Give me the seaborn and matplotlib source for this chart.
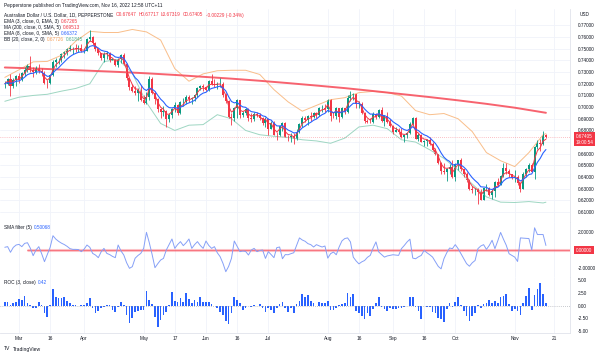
import numpy as np
import pandas as pd
import matplotlib
matplotlib.use("Agg")
import matplotlib.pyplot as plt
import seaborn as sns

# AUD/USD daily bars, Feb 22 - Nov 16 2022 (one value per trading day, grouped by month)
dates = pd.bdate_range("2022-02-22", "2022-11-16")

closes = [
    0.7200, 0.7245, 0.7180, 0.7235, 0.7265,
    0.7230, 0.7290, 0.7320, 0.7355, 0.7320, 0.7300, 0.7335, 0.7310, 0.7295, 0.7210, 0.7205, 0.7275,
    0.7390, 0.7405, 0.7405, 0.7455, 0.7470, 0.7500, 0.7505, 0.7505, 0.7500, 0.7505, 0.7480,
    0.7485, 0.7580, 0.7600, 0.7550, 0.7495, 0.7460, 0.7420, 0.7455, 0.7460, 0.7405, 0.7410,
    0.7365, 0.7410, 0.7450, 0.7370, 0.7250, 0.7170, 0.7140, 0.7120, 0.7150, 0.7060,
    0.7035, 0.7090, 0.7240, 0.7120, 0.7070, 0.6980, 0.6955, 0.6965, 0.6900, 0.6935, 0.6985,
    0.7020, 0.6950, 0.7040, 0.7040, 0.7090, 0.7070, 0.7080, 0.7100, 0.7165, 0.7185, 0.7175,
    0.7150, 0.7225, 0.7200, 0.7190, 0.7200, 0.7200, 0.7105, 0.7055, 0.6915, 0.6905, 0.6995,
    0.7060, 0.6930, 0.6950, 0.6985, 0.6910, 0.6900, 0.6945, 0.6930, 0.6910, 0.6865, 0.6900,
    0.6815, 0.6865, 0.6765, 0.6760, 0.6835, 0.6860, 0.6745, 0.6740, 0.6755, 0.6730, 0.6790,
    0.6855, 0.6910, 0.6890, 0.6925, 0.6915, 0.6950, 0.6935, 0.6990, 0.6995, 0.6985,
    0.7060, 0.6925, 0.6920, 0.6995, 0.6915, 0.6990, 0.6960, 0.7075, 0.7100, 0.7110, 0.7030,
    0.7030, 0.6950, 0.6880, 0.6875, 0.6870, 0.6945, 0.6915, 0.6975, 0.6880, 0.6920, 0.6875, 0.6840,
    0.6790, 0.6800, 0.6790, 0.6740, 0.6760, 0.6775, 0.6855, 0.6905, 0.6730, 0.6760, 0.6705,
    0.6710, 0.6720, 0.6680, 0.6630, 0.6600, 0.6525, 0.6450, 0.6445, 0.6470, 0.6485, 0.6400,
    0.6510, 0.6545, 0.6465, 0.6425, 0.6375, 0.6300, 0.6285, 0.6285, 0.6275, 0.6205, 0.6305,
    0.6305, 0.6245, 0.6280, 0.6355, 0.6330, 0.6410, 0.6480, 0.6455, 0.6425, 0.6395,
    0.6400, 0.6350, 0.6300, 0.6425, 0.6470, 0.6500, 0.6445, 0.6660, 0.6695, 0.6680, 0.6765, 0.67405,
]
highs = [
    0.7225, 0.7250, 0.7285, 0.7250, 0.7275,
    0.7290, 0.7300, 0.7340, 0.7370, 0.7441, 0.7340, 0.7350, 0.7370, 0.7335, 0.7310, 0.7230, 0.7285,
    0.7400, 0.7420, 0.7420, 0.7460, 0.7480, 0.7505, 0.7530, 0.7515, 0.7540, 0.7530, 0.7540,
    0.7510, 0.7590, 0.7661, 0.7610, 0.7560, 0.7505, 0.7460, 0.7470, 0.7480, 0.7470, 0.7420,
    0.7410, 0.7425, 0.7455, 0.7460, 0.7380, 0.7250, 0.7200, 0.7185, 0.7165, 0.7190,
    0.7100, 0.7130, 0.7266, 0.7255, 0.7140, 0.7075, 0.6990, 0.7010, 0.6975, 0.6950, 0.6990,
    0.7040, 0.7030, 0.7050, 0.7075, 0.7105, 0.7100, 0.7090, 0.7110, 0.7170, 0.7190, 0.7200,
    0.7185, 0.7235, 0.7283, 0.7240, 0.7215, 0.7250, 0.7215, 0.7125, 0.7060, 0.6950, 0.7005,
    0.7070, 0.7065, 0.6970, 0.6990, 0.6990, 0.6950, 0.6960, 0.6960, 0.6950, 0.6915, 0.6915,
    0.6905, 0.6880, 0.6880, 0.6785, 0.6840, 0.6870, 0.6870, 0.6760, 0.6780, 0.6775, 0.6810,
    0.6865, 0.6925, 0.6925, 0.6930, 0.6955, 0.6960, 0.6960, 0.7000, 0.7020, 0.7030,
    0.7070, 0.7070, 0.6960, 0.7000, 0.6995, 0.7000, 0.6990, 0.7105, 0.7137, 0.7125, 0.7110,
    0.7055, 0.7040, 0.6960, 0.6900, 0.6910, 0.6955, 0.6950, 0.6985, 0.7005, 0.6925, 0.6955, 0.6900,
    0.6850, 0.6830, 0.6825, 0.6820, 0.6765, 0.6790, 0.6870, 0.6915, 0.6915, 0.6775, 0.6770,
    0.6720, 0.6725, 0.6740, 0.6705, 0.6650, 0.6600, 0.6530, 0.6520, 0.6480, 0.6510, 0.6545,
    0.6520, 0.6550, 0.6560, 0.6470, 0.6440, 0.6380, 0.6320, 0.6310, 0.6305, 0.6300, 0.6310,
    0.6340, 0.6315, 0.6300, 0.6370, 0.6390, 0.6420, 0.6520, 0.6520, 0.6470, 0.6430,
    0.6460, 0.6420, 0.6355, 0.6440, 0.6480, 0.6520, 0.6520, 0.6670, 0.6715, 0.6725, 0.6797, 0.67717,
]
lows = [
    0.7160, 0.7190, 0.7094, 0.7165, 0.7180,
    0.7210, 0.7220, 0.7270, 0.7300, 0.7300, 0.7260, 0.7280, 0.7290, 0.7265, 0.7195, 0.7165, 0.7195,
    0.7270, 0.7340, 0.7370, 0.7390, 0.7420, 0.7450, 0.7480, 0.7455, 0.7470, 0.7470, 0.7470,
    0.7460, 0.7480, 0.7570, 0.7530, 0.7480, 0.7450, 0.7400, 0.7390, 0.7410, 0.7390, 0.7400,
    0.7350, 0.7340, 0.7380, 0.7360, 0.7230, 0.7150, 0.7130, 0.7100, 0.7055, 0.7055,
    0.7030, 0.7030, 0.7060, 0.7110, 0.7030, 0.6960, 0.6910, 0.6920, 0.6829, 0.6870, 0.6910,
    0.6960, 0.6930, 0.6940, 0.7010, 0.7030, 0.7040, 0.7030, 0.7050, 0.7090, 0.7150, 0.7140,
    0.7135, 0.7135, 0.7190, 0.7175, 0.7155, 0.7170, 0.7090, 0.7035, 0.6910, 0.6850, 0.6880,
    0.6910, 0.6910, 0.6915, 0.6930, 0.6880, 0.6870, 0.6880, 0.6915, 0.6890, 0.6850, 0.6830,
    0.6765, 0.6810, 0.6760, 0.6720, 0.6755, 0.6795, 0.6740, 0.6710, 0.6705, 0.6680, 0.6720,
    0.6780, 0.6830, 0.6870, 0.6845, 0.6880, 0.6905, 0.6910, 0.6920, 0.6955, 0.6960,
    0.6960, 0.6880, 0.6910, 0.6900, 0.6870, 0.6910, 0.6940, 0.6950, 0.7050, 0.7060, 0.6995,
    0.6990, 0.6945, 0.6860, 0.6860, 0.6860, 0.6860, 0.6900, 0.6905, 0.6870, 0.6840, 0.6865, 0.6830,
    0.6770, 0.6785, 0.6770, 0.6735, 0.6700, 0.6735, 0.6770, 0.6850, 0.6725, 0.6710, 0.6700,
    0.6670, 0.6670, 0.6675, 0.6620, 0.6590, 0.6510, 0.6430, 0.6430, 0.6363, 0.6430, 0.6395,
    0.6370, 0.6460, 0.6455, 0.6400, 0.6360, 0.6290, 0.6260, 0.6250, 0.6170, 0.6200, 0.6200,
    0.6280, 0.6240, 0.6210, 0.6230, 0.6320, 0.6330, 0.6400, 0.6430, 0.6400, 0.6385,
    0.6360, 0.6335, 0.6275, 0.6300, 0.6400, 0.6440, 0.6440, 0.6385, 0.6640, 0.6620, 0.6675, 0.67319,
]
first_open = 0.7195

# Bollinger bands (20, 2) and 200 SMA, read every few bars
bb_bars = list(range(0, 191, 5)) + [191]
bb_upper = [0.7255, 0.7320, 0.7388, 0.7392, 0.7445, 0.7565, 0.7650, 0.7640, 0.7640, 0.7666,
            0.7645, 0.7575, 0.7330, 0.7222, 0.7285, 0.7312, 0.7316, 0.7316, 0.7280, 0.7150,
            0.7045, 0.6965, 0.7015, 0.7064, 0.7081, 0.7124, 0.7135, 0.7125, 0.7095, 0.6970,
            0.6935, 0.6945, 0.6900, 0.6790, 0.6610, 0.6540, 0.6490, 0.6610, 0.6763, 0.67726]
bb_lower = [0.7050, 0.7085, 0.7100, 0.7110, 0.7137, 0.7160, 0.7200, 0.7390, 0.7410, 0.7290,
            0.7040, 0.6860, 0.6800, 0.6845, 0.6850, 0.6935, 0.6900, 0.6800, 0.6763, 0.6750,
            0.6740, 0.6720, 0.6710, 0.6690, 0.6734, 0.6830, 0.6845, 0.6815, 0.6720, 0.6700,
            0.6634, 0.6560, 0.6460, 0.6340, 0.6230, 0.6185, 0.6182, 0.6190, 0.6178, 0.61845]
ma_bars = list(range(0, 181, 10)) + [191]
ma200 = [0.7340, 0.7332, 0.7322, 0.7312, 0.7302, 0.7290, 0.7276, 0.7260, 0.7244, 0.7226,
         0.7206, 0.7185, 0.7163, 0.7138, 0.7112, 0.7086, 0.7058, 0.7028, 0.6995, 0.69513]

sma_filter = [
    0.30, 0.37, -0.25, 0.29, 0.55, 0.62, 0.37, 0.73, 0.80, 0.20, -0.62, 0.00, 0.37, -0.40, -1.28, -0.50,
    0.30, 1.57, 1.20, 0.95, 0.75, 0.60, 0.40, 0.15, 0.07, 0.07, 0.05, -0.18, 0.10, 0.55, 0.30, -0.37,
    -0.55, -0.84, -0.20, 0.18, -0.37, -0.50, -0.70, -0.84, 0.55, -0.10, -0.55, -1.40, -2.01, -1.83, -0.90, -0.60,
    -0.37, 0.18, 1.94, 0.80, -0.50, -1.94, -1.50, -1.10, -0.92, 0.00, 0.60, 1.21, 0.18, 0.60, 0.92, 0.48,
    0.80, 1.21, 0.18, 0.60, 0.92, 0.50, 0.18, 0.99, 0.50, 0.18, 0.37, -0.30, -0.73, -1.46, -2.38, -1.80,
    -0.92, 0.99, 0.40, -0.18, -0.11, -0.15, -0.55, 0.00, 0.18, -0.18, -0.05, 0.00, -0.92, -0.18, -0.50, -0.84,
    0.26, 0.33, -0.96, -0.50, -0.52, -0.40, -0.30, 0.52, 1.33, 1.10, 0.96, 0.70, 0.59, 0.33, 0.59, 0.45,
    0.33, 0.44, -0.89, -0.40, -0.22, -0.52, 0.33, 1.00, 1.26, 1.33, 0.89, -0.78, -1.20, -1.52, -1.30, -1.15,
    -0.80, -0.59, 0.22, 0.89, -0.22, -0.50, -0.78, -0.65, -0.59, -0.52, -0.55, -0.59, 0.15, 0.50, 0.89, 1.19,
    -0.89, -0.96, -0.75, -0.59, -0.04, -0.30, -0.52, -0.78, -1.30, -1.80, -2.07, -0.96, -0.30, 0.22, 0.15, 0.59,
    0.15, -0.40, -0.96, -1.50, -1.78, -1.40, -1.15, 0.15, 0.44, 0.59, 0.07, 0.50, 1.07, 0.15, 1.00, 1.93,
    1.20, 0.52, -0.41, -0.60, -0.78, -1.26, 1.33, 1.30, 1.28, 1.26, 0.00, 2.44, 1.70, 1.70, 1.70, 0.50,
]
roc = [
    0.80, 0.65, 0.15, 0.45, 0.65, 1.30, 1.10, 1.90, 0.45, 0.10, -0.50, -0.40, 0.65, 0.10, -1.50, -2.15,
    0.05, 3.30, 1.75, 1.55, 1.55, 1.75, 0.90, 0.45, 0.05, 0.03, 0.02, 0.05, 0.10, 0.45, 1.40, -0.50,
    -1.50, -1.05, -0.50, -0.20, 0.10, 0.10, -0.85, -1.30, -0.20, 0.65, 0.10, -1.85, -3.45, -2.40, -1.20, -1.05,
    -0.85, -0.80, 2.90, 1.10, 0.25, -2.15, -4.10, -2.80, -1.85, -1.30, 0.10, 2.75, 0.90, 0.65, 1.40, 0.65,
    2.40, 1.30, 0.45, 1.10, 0.65, 1.75, 0.80, 0.65, 0.65, 0.30, 0.00, -0.50, -1.20, -1.85, -3.10, -3.65,
    -1.50, 1.75, 1.10, 0.45, -0.85, -0.50, 0.00, -0.20, 0.10, 0.00, 0.25, -0.50, -1.20, -0.40, -0.85, -1.50,
    -0.40, 0.25, 0.75, -0.40, -1.30, -0.40, -1.50, 0.30, 0.90, 2.20, 1.60, 2.00, 0.90, 0.45, 0.00, 0.70,
    0.45, 0.45, 0.90, -0.85, -0.85, -0.40, 0.05, 0.25, 0.45, 2.45, 1.60, 2.20, -1.05, -1.40, -2.00, -2.70,
    -1.40, -2.00, -0.70, 0.45, 1.60, -0.30, -0.70, -1.05, -0.40, -0.70, -0.60, -0.50, -0.40, -0.20, -0.10, 1.60,
    1.70, -0.20, -1.05, -2.70, -0.05, -0.20, -0.20, -1.25, -1.40, -2.40, -2.70, -3.20, -0.70, 0.45, -0.20, 0.70,
    1.60, 0.05, -1.05, -2.00, -3.00, -2.00, -1.40, 0.05, -0.40, 0.25, 0.45, 1.10, 0.45, 0.90, 0.45, 1.60,
    1.80, 2.20, 0.25, -1.05, -0.70, -1.05, -1.90, 0.45, 1.90, 3.55, -0.85, 2.00, 3.35, 4.40, 2.20, 0.42,
]

tick_dates = ["2022-03-01", "2022-03-16", "2022-04-01", "2022-05-02", "2022-05-17", "2022-06-01",
              "2022-06-16", "2022-07-01", "2022-08-01", "2022-08-16", "2022-09-01", "2022-09-16",
              "2022-10-03", "2022-11-01", "2022-11-21"]
tick_labels = ["Mar", "16", "Apr", "May", "17", "Jun", "16", "Jul", "Aug", "16", "Sep", "16",
               "Oct", "Nov", "21"]

n = len(dates)
for arr in (closes, highs, lows, sma_filter, roc):
    assert len(arr) == n, len(arr)

df = pd.DataFrame({"bar": np.arange(n), "close": closes, "high": highs, "low": lows,
                   "sma_filter": sma_filter, "roc": roc})
df["open"] = [first_open] + closes[:-1]
df["ema3"] = df["close"].ewm(span=3, adjust=False).mean()
df["ema8"] = df["close"].ewm(span=8, adjust=False).mean()

all_days = pd.bdate_range("2022-02-22", "2022-11-30")
tick_pos = [all_days.get_loc(pd.Timestamp(d)) for d in tick_dates]

# colours
UP, DOWN = "#089981", "#F23645"
TXT = "#131722"
GRID = "#F0F3FA"
BORDER = "#E0E3EB"

sns.set_theme(style="white")
plt.rcParams["font.family"] = ["Liberation Sans", "DejaVu Sans"]

W, H = 602, 355
fig = plt.figure(figsize=(W / 100, H / 100), dpi=100)
fig.patch.set_facecolor("white")


def box(top, bottom):
    return [0, 1 - bottom / H, 570 / W, (bottom - top) / H]


ax = fig.add_axes(box(9, 221.7))
ax_sma = fig.add_axes(box(221.7, 276.6))
ax_roc = fig.add_axes(box(276.6, 333))

xlim = (-1.7, 199.5)
for a in (ax, ax_sma, ax_roc):
    a.set_xlim(*xlim)
    a.set_facecolor("white")
    a.set_xticks(tick_pos)
    a.grid(axis="x", color=GRID, lw=0.6)
    a.yaxis.tick_right()
    a.tick_params(axis="both", length=0, labelsize=3.4, labelcolor=TXT, pad=5.5)
    for side in ("left", "top"):
        a.spines[side].set_visible(False)
    for side in ("right", "bottom"):
        a.spines[side].set_color(BORDER)
        a.spines[side].set_linewidth(0.6)

# ---- main price panel ----
ax.set_ylim(0.60173, 0.78415)
price_ticks = np.round(np.arange(0.61, 0.7701, 0.01), 2)
ax.set_yticks(price_ticks)
ax.set_yticklabels(["" if abs(p - 0.67) < 1e-6 else f"{p:.5f}" for p in price_ticks])
ax.grid(axis="y", color=GRID, lw=0.6)
ax.tick_params(axis="x", labelbottom=False)

sns.lineplot(x=bb_bars, y=bb_upper, ax=ax, color="#F9BE8A", linewidth=0.7)
sns.lineplot(x=bb_bars, y=bb_lower, ax=ax, color="#9ED6C2", linewidth=0.7)
sns.lineplot(x=ma_bars, y=ma200, ax=ax, color="#F7525F", linewidth=1.4, alpha=0.9)
ax.axhline(closes[-1], color=DOWN, lw=0.5, alpha=0.6, ls=(0, (1, 2)))

colors = np.where(df["close"] >= df["open"], UP, DOWN)
ax.vlines(df["bar"], df["low"], df["high"], colors=colors, lw=0.6)
body_low = np.minimum(df["open"], df["close"])
body_h = np.maximum(np.abs(df["close"] - df["open"]), 0.00012)
ax.bar(df["bar"], body_h, bottom=body_low, width=0.72, color=colors, linewidth=0)

sns.lineplot(data=df, x="bar", y="ema3", ax=ax, color=DOWN, linewidth=0.7)
sns.lineplot(data=df, x="bar", y="ema8", ax=ax, color="#2962FF", linewidth=0.8)
ax.set_xlabel("")
ax.set_ylabel("")

# ---- SMA filter panel ----
ax_sma.set_ylim(-2.92, 3.11)
ax_sma.set_yticks([2, -2])
ax_sma.set_yticklabels(["2.00000", "-2.00000"])
ax_sma.tick_params(axis="x", labelbottom=False)
ax_sma.plot([8, xlim[1]], [0, 0], color="#F7525F", lw=2.2, alpha=0.35, solid_capstyle="butt")
ax_sma.plot([8, xlim[1]], [0, 0], color="#F7525F", lw=0.6, alpha=0.8)
sns.lineplot(data=df, x="bar", y="sma_filter", ax=ax_sma, color="#86A0F7", linewidth=0.7)
ax_sma.set_xlabel("")
ax_sma.set_ylabel("")

# ---- ROC panel ----
ax_roc.set_ylim(-5.37, 5.69)
roc_ticks = [5, 2.5, 0, -2.5, -5]
ax_roc.set_yticks(roc_ticks)
ax_roc.set_yticklabels([f"{v:.2f}" for v in roc_ticks])
ax_roc.axhline(0, color="#9598A1", lw=0.5, ls=(0, (1, 2)))
ax_roc.bar(df["bar"], df["roc"], width=0.6, color="#2962FF", linewidth=0)
ax_roc.set_xticklabels(tick_labels)
ax_roc.tick_params(axis="x", pad=2.4)

# ---- texts ----
fig.canvas.draw()
rend = fig.canvas.get_renderer()


def text_line(x_px, y_px, parts, size=3.4):
    x = x_px
    for s, c in parts:
        t = fig.text(x / W, 1 - y_px / H, s, color=c, fontsize=size, va="center", ha="left")
        x += t.get_window_extent(renderer=rend).width + 2.2


fig.text(4 / W, 1 - 5.2 / H, "Pepperstone published on TradingView.com, Nov 16, 2022 12:58 UTC+11",
         fontsize=3.4, color=TXT, va="center", ha="left")
text_line(4, 15, [("Australian Dollar / U.S. Dollar, 1D, PEPPERSTONE", TXT),
                  ("O0.67647", DOWN), ("H0.67717", DOWN), ("L0.67319", DOWN),
                  ("C0.67405", DOWN), ("-0.00229 (-0.34%)", DOWN)])
text_line(4, 21.2, [("EMA (3, close, 0, EMA, 3)", TXT), ("0.67265", DOWN)])
text_line(4, 27.2, [("MA (200, close, 0, SMA, 5)", TXT), ("0.69513", DOWN)])
text_line(4, 33.2, [("EMA (8, close, 0, SMA, 5)", TXT), ("0.66372", "#2962FF")])
text_line(4, 39.2, [("BB (20, close, 2, 0)", TXT), ("0.67726", "#F5A05A"), ("0.61845", "#4CB08F")])
text_line(4, 227.5, [("SMA filter (5)", TXT), ("0.50068", "#2962FF")])
text_line(4, 282.7, [("ROC (3, close)", TXT), ("0.42", "#2962FF")])

fig.text(580 / W, 1 - 14 / H, "USD", fontsize=3.4, color=TXT, va="center", ha="left")
fig.text(576 / W, 1 - 133.8 / H, "0.67405\n19:00:54", fontsize=3.3, color="white",
         va="top", ha="left", linespacing=1.25,
         bbox=dict(boxstyle="square,pad=0.35", fc=DOWN, ec="none"))
fig.text(576 / W, 1 - 250 / H, "0.00000", fontsize=3.3, color="white", va="center", ha="left",
         bbox=dict(boxstyle="square,pad=0.35", fc=DOWN, ec="none"))

text_line(4, 349, [("TV", TXT), ("TradingView", TXT)], size=3.6)

fig.savefig("out.png", dpi=100)
